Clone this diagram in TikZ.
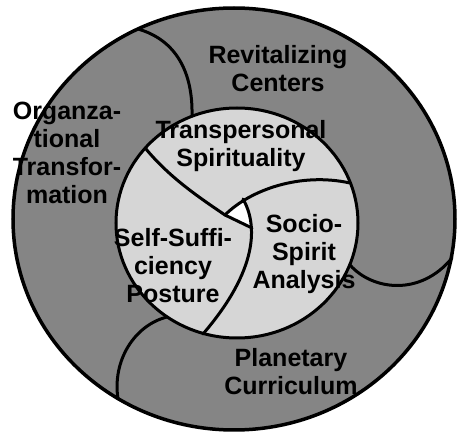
\documentclass[tikz,border=0pt]{standalone}
\usepackage{fontspec}
\setmainfont{Liberation Sans}
\tikzset{
  lbl/.style={font=\fontsize{25}{28}\selectfont\bfseries, align=center, inner sep=0pt, text=black},
  edge/.style={line width=3pt, line cap=round, line join=round},
}
\begin{document}
\begin{tikzpicture}[x=1pt,y=-1pt]
\useasboundingbox (0,0) rectangle (459,433);
% fills
\fill[black!48] (234,219) ellipse [x radius=221, y radius=211];
\fill[black!16] (237,223) ellipse [x radius=121, y radius=115];
\fill[white] (225,215) .. controls (231,208) and (237,203) .. (243,199)
   .. controls (248,207) and (251,216) .. (252,227) -- cycle;
% coordinates
\coordinate (t1) at (138,29);
\coordinate (t2) at (192,116);
\coordinate (r1) at (350,265);
\coordinate (r2) at (452,258);
\coordinate (b1) at (167,317);
\coordinate (b2) at (118,399);
\coordinate (a1) at (146,149);
\coordinate (m) at (225,215);
\coordinate (m2) at (252,228);
\coordinate (k) at (243,199);
\coordinate (e) at (350,183);
\coordinate (c2) at (203,334);
% outer dividers
\draw[edge] (t1) .. controls (176,40) and (193,72) .. (t2);
\draw[edge] (r1) .. controls (372,290) and (420,297) .. (r2);
\draw[edge] (b1) .. controls (135,325) and (112,360) .. (b2);
% inner dividers
\draw[edge] (a1) .. controls (170,178) and (200,198) .. (m) -- (m2);
\draw[edge] (m) .. controls (250,190) and (300,172) .. (e);
\draw[edge] (k) .. controls (258,225) and (258,270) .. (c2);
% circles
\draw[line width=3.5pt] (234,219) ellipse [x radius=221, y radius=211];
\draw[line width=3pt] (237,223) ellipse [x radius=121, y radius=115];
% labels
\node[lbl] (rc) at (278,68.5) {Revitalizing\\Centers};
\node[lbl] (ot) at (67,153) {Organza-\\tional\\Transfor-\\mation};
\node[lbl] (ts) at (241,146) {Transpersonal\\Spirituality};
\node[lbl] (ss) at (173,265.5) {Self-Suffi-\\ciency\\Posture};
\node[lbl] (sa) at (304,254) {Socio-\\Spirit\\Analysis};
\node[lbl] (pc) at (291,371.5) {Planetary\\Curriculum};
\end{tikzpicture}
\end{document}
